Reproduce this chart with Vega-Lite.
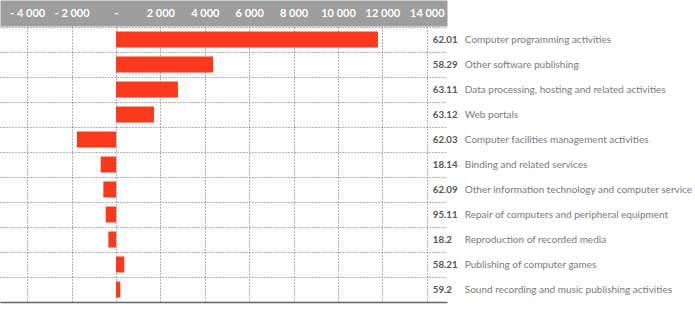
{
  "$schema": "https://vega.github.io/schema/vega-lite/v6.json",
  "autosize": {"type": "none"},
  "padding": {"left": 0, "top": 27, "right": 248, "bottom": 7},
  "width": 447,
  "height": 275,
  "background": "white",
  "config": {
    "view": {"stroke": null},
    "font": "Lato"
  },
  "data": {
    "values": [
      {"code": "62.01", "activity": "Computer programming activities", "value": 11800},
      {"code": "58.29", "activity": "Other software publishing", "value": 4370},
      {"code": "63.11", "activity": "Data processing, hosting and related activities", "value": 2790},
      {"code": "63.12", "activity": "Web portals", "value": 1710},
      {"code": "62.03", "activity": "Computer facilities management activities", "value": -1760},
      {"code": "18.14", "activity": "Binding and related services", "value": -690},
      {"code": "62.09", "activity": "Other information technology and computer service activities", "value": -570},
      {"code": "95.11", "activity": "Repair of computers and peripheral equipment", "value": -465},
      {"code": "18.2", "activity": "Reproduction of recorded media", "value": -345},
      {"code": "58.21", "activity": "Publishing of computer games", "value": 375},
      {"code": "59.2", "activity": "Sound recording and music publishing activities", "value": 195}
    ]
  },
  "encoding": {
    "y": {
      "field": "activity",
      "type": "nominal",
      "sort": null,
      "scale": {"paddingInner": 0, "paddingOuter": 0},
      "axis": {
        "orient": "left",
        "title": null,
        "labels": false,
        "ticks": false,
        "domain": false,
        "grid": true,
        "tickBand": "extent",
        "gridColor": "#666666",
        "gridDash": [1, 2],
        "gridWidth": 1
      }
    }
  },
  "layer": [
    {
      "mark": {"type": "bar", "color": "#fb3a1d", "height": {"band": 0.64}},
      "encoding": {
        "x": {
          "field": "value",
          "type": "quantitative",
          "scale": {"domain": [-5225, 14910], "nice": false, "zero": false},
          "axis": {
            "orient": "bottom",
            "title": null,
            "labels": false,
            "ticks": false,
            "grid": false,
            "domain": true,
            "domainColor": "#666666",
            "domainWidth": 1.5
          }
        }
      }
    },
    {
      "mark": {"type": "text", "align": "left", "baseline": "middle", "dx": 6, "font": "Lato", "fontWeight": "bold", "fontSize": 9.7, "color": "#555555"},
      "encoding": {
        "x": {
          "datum": 14000,
          "type": "quantitative",
          "axis": {
            "orient": "top",
            "title": null,
            "labels": false,
            "ticks": false,
            "grid": false,
            "domain": true,
            "domainColor": "#9e9e9e",
            "domainWidth": 26,
            "offset": 14
          }
        },
        "text": {"field": "code"}
      }
    },
    {
      "mark": {"type": "text", "align": "left", "baseline": "middle", "dx": 38, "font": "Lato", "fontSize": 10, "color": "#7a7a7a"},
      "encoding": {
        "x": {
          "datum": 14000,
          "type": "quantitative",
          "axis": {
            "orient": "top",
            "title": null,
            "values": [-4000, -2000, 0, 2000, 4000, 6000, 8000, 10000, 12000, 14000],
            "labelExpr": "datum.value == 0 ? '-' : (datum.value < 0 ? '- ' : '') + replace(format(abs(datum.value), ','), ',', ' ')",
            "labelColor": "white",
            "labelFont": "Lato",
            "labelFontWeight": "bold",
            "labelFontSize": 11,
            "labelBaseline": "middle",
            "labelPadding": 0,
            "labelFlush": false,
            "labelOverlap": false,
            "ticks": false,
            "domain": false,
            "offset": 14,
            "grid": true,
            "gridColor": "#666666",
            "gridDash": [1, 2],
            "gridWidth": 1
          }
        },
        "text": {"field": "activity"}
      }
    }
  ],
  "resolve": {"axis": {"x": "independent"}}
}
